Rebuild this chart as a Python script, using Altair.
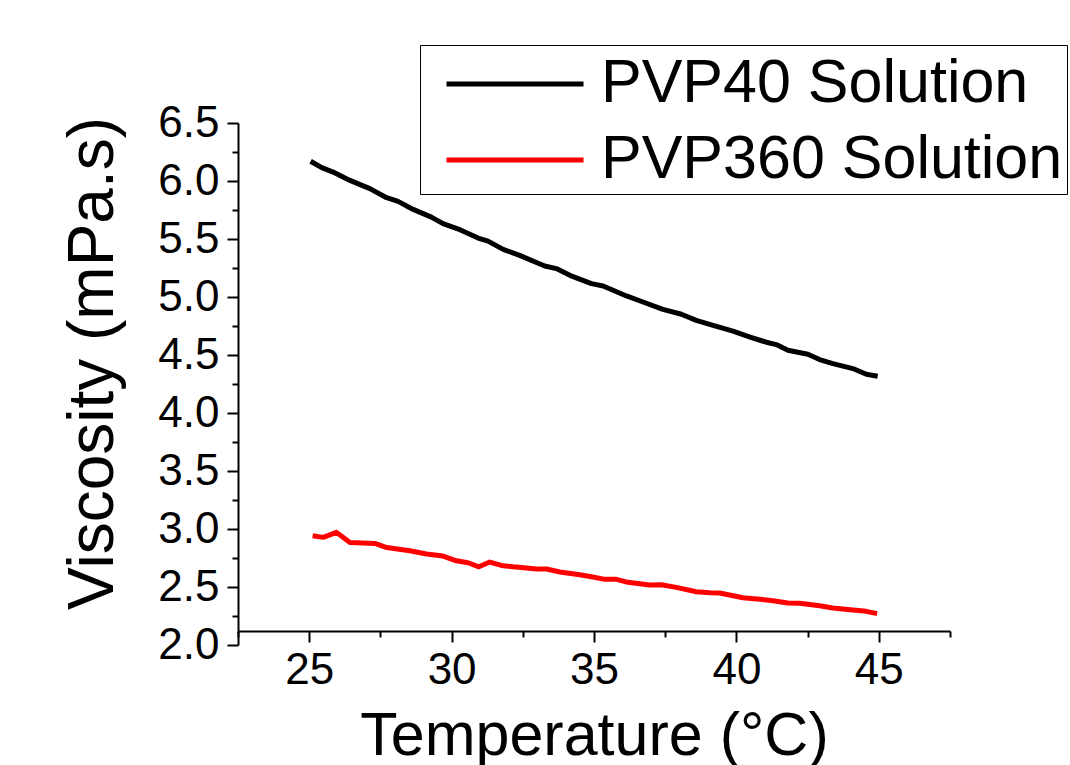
import altair as alt
import pandas as pd

# PVP40 Solution (black)
pvp40_temp = [25.05, 25.44, 25.84, 26.43, 27.13, 27.72, 28.12, 28.65, 29.29, 29.70,
              30.29, 30.93, 31.28, 31.81, 32.39, 33.27, 33.68, 34.15, 34.91, 35.32,
              35.67, 36.14, 36.72, 37.42, 38.07, 38.59, 39.18, 39.88, 40.48, 41.05,
              41.40, 41.81, 42.51, 42.92, 43.39, 44.09, 44.56, 44.96]
pvp40_visc = [6.17, 6.115, 6.077, 6.005, 5.934, 5.856, 5.824, 5.755, 5.689, 5.632,
              5.58, 5.508, 5.482, 5.411, 5.359, 5.267, 5.245, 5.187, 5.115, 5.095,
              5.058, 5.009, 4.957, 4.894, 4.851, 4.799, 4.756, 4.705, 4.655, 4.61,
              4.59, 4.541, 4.506, 4.461, 4.426, 4.383, 4.334, 4.317]

# PVP360 Solution (red)
pvp360_temp = [25.12, 25.49, 25.96, 26.43, 27.31, 27.72, 28.53, 29.12, 29.70, 30.17,
               30.58, 30.96, 31.34, 31.75, 32.16, 32.63, 32.98, 33.33, 33.80, 34.50,
               34.96, 35.38, 35.79, 36.19, 36.54, 36.95, 37.36, 37.89, 38.59, 39.06,
               39.41, 40.23, 40.83, 41.28, 41.81, 42.22, 42.92, 43.39, 44.09, 44.56,
               44.94]
pvp360_visc = [2.941, 2.928, 2.971, 2.883, 2.876, 2.84, 2.812, 2.784, 2.767, 2.726,
               2.709, 2.674, 2.715, 2.686, 2.674, 2.663, 2.655, 2.655, 2.629, 2.606,
               2.586, 2.566, 2.566, 2.54, 2.531, 2.517, 2.519, 2.497, 2.459, 2.45,
               2.448, 2.407, 2.394, 2.382, 2.362, 2.359, 2.338, 2.319, 2.301, 2.29,
               2.27]

series_names = ["PVP40 Solution", "PVP360 Solution"]
series_colors = ["#000000", "#ff0000"]

x_ticks = [22.5, 25, 27.5, 30, 32.5, 35, 37.5, 40, 42.5, 45, 47.5]
y_ticks = [2.0, 2.25, 2.5, 2.75, 3.0, 3.25, 3.5, 3.75, 4.0, 4.25, 4.5, 4.75,
           5.0, 5.25, 5.5, 5.75, 6.0, 6.25, 6.5]

rows = []
for t, v in zip(pvp40_temp, pvp40_visc):
    rows.append({"temp": t, "visc": v, "series": series_names[0], "order": t})
for t, v in zip(pvp360_temp, pvp360_visc):
    rows.append({"temp": t, "visc": v, "series": series_names[1], "order": t})
df = pd.DataFrame(rows)

FONT = "Liberation Sans"

x_axis = alt.Axis(
    values=x_ticks,
    labelExpr="datum.value % 5 === 0 ? format(datum.value, 'd') : ''",
    tickSize={"condition": {"test": "datum.value % 5 !== 0", "value": 6}, "value": 11},
    tickWidth=2,
    domainWidth=2,
    domainColor="black",
    tickColor="black",
    labelFont=FONT,
    labelFontSize=44,
    labelColor="black",
    labelPadding=6,
    labelOverlap=False,
    labelFlush=False,
    offset=-14,
    grid=False,
    title="Temperature (°C)",
    titleFont=FONT,
    titleFontSize=61,
    titleFontWeight="normal",
    titleColor="black",
    titlePadding=14,
)

y_axis = alt.Axis(
    values=y_ticks,
    labelExpr="datum.value % 0.5 === 0 ? format(datum.value, '.1f') : ''",
    tickSize={"condition": {"test": "datum.value % 0.5 !== 0", "value": 6}, "value": 11},
    tickWidth=2,
    domainWidth=2,
    domainColor="black",
    tickColor="black",
    labelFont=FONT,
    labelFontSize=44,
    labelColor="black",
    labelPadding=8,
    labelOverlap=False,
    labelFlush=False,
    grid=False,
    title="Viscosity (mPa.s)",
    titleFont=FONT,
    titleFontSize=64,
    titleFontWeight="normal",
    titleColor="black",
    titleX=-113,
    titleY=240,
)

chart = alt.Chart(df).mark_line(strokeWidth=5, strokeJoin="round").encode(
    x=alt.X("temp:Q", scale=alt.Scale(domain=[22.5, 47.5], nice=False, zero=False), axis=x_axis),
    y=alt.Y("visc:Q", scale=alt.Scale(domain=[2.0, 6.5], nice=False, zero=False), axis=y_axis),
    color=alt.Color(
        "series:N",
        scale=alt.Scale(domain=series_names, range=series_colors),
        legend=alt.Legend(
            orient="none",
            legendX=182,
            legendY=-78,
            title=None,
            symbolType="M-2.108,0H2.108",
            symbolSize=4225,
            symbolStrokeWidth=5,
            labelFont=FONT,
            labelFontSize=61,
            labelColor="black",
            labelOffset=51,
            labelExpr="datum.label + '      '",
            symbolOffset=56,
            labelLimit=1000,
            padding=4,
            rowPadding=11,
            strokeColor="black",
            fillColor="white",
        ),
    ),
    order="order:Q",
).properties(
    width=712,
    height=522,
    autosize=alt.AutoSizeParams(type="none"),
    padding={"left": 238, "top": 123, "right": 120, "bottom": 120},
).configure_view(stroke=None)

chart.save("out.html", embed_options={"renderer": "svg", "actions": False})
